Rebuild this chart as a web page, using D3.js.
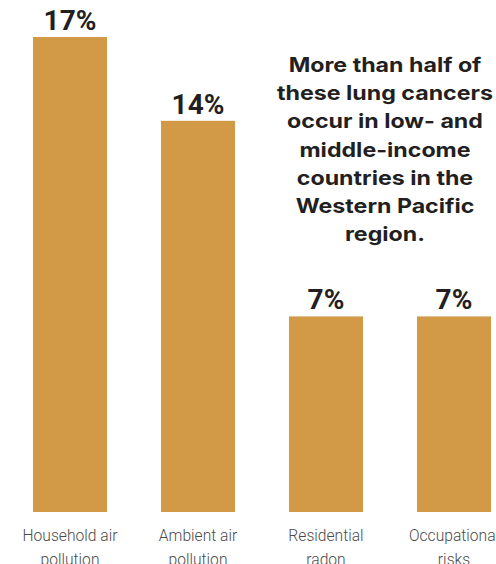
<!DOCTYPE html>
<html>
<head>
<meta charset="utf-8">
<script src="https://cdn.jsdelivr.net/npm/d3@7"></script>
<style>
  html, body { margin: 0; padding: 0; background: #fff; }
  svg { display: block; }
</style>
</head>
<body>
<svg id="chart" width="496" height="564"></svg>
<script>
// Share of lung cancer deaths attributable to each risk factor
const categories = ["Household air pollution", "Ambient air pollution", "Residential radon", "Occupational risks"];
const categoryLines = [["Household air", "pollution"], ["Ambient air", "pollution"], ["Residential", "radon"], ["Occupational", "risks"]];
const values = [17, 14, 7, 7];
const noteLines = ["More than half of", "these lung cancers", "occur in low- and", "middle-income", "countries in the", "Western Pacific", "region."];

const svg = d3.select("#chart");
const barColor = "#D29946";

const x = d3.scaleBand()
  .domain(categories)
  .range([6, 518])
  .paddingInner(54 / 128)
  .paddingOuter(27 / 128);

const y = d3.scaleLinear()
  .domain([0, 17])
  .range([512, 37]);

// bars
svg.selectAll("rect.bar")
  .data(categories)
  .join("rect")
  .attr("class", "bar")
  .attr("x", d => x(d))
  .attr("width", x.bandwidth())
  .attr("y", (d, i) => y(values[i]))
  .attr("height", (d, i) => y(0) - y(values[i]))
  .attr("fill", barColor);

// value labels above bars
svg.selectAll("text.val")
  .data(categories)
  .join("text")
  .attr("class", "val")
  .attr("x", d => x(d) + x.bandwidth() / 2)
  .attr("y", (d, i) => y(values[i]) - 7)
  .attr("text-anchor", "middle")
  .attr("font-family", "Roboto, 'Liberation Sans', sans-serif")
  .attr("font-weight", 700)
  .attr("font-size", 28)
  .attr("fill", "#231f20")
  .text((d, i) => values[i] + "%");

// category labels under the baseline (narrowed to a condensed look)
const cat = svg.selectAll("g.cat")
  .data(categories)
  .join("g")
  .attr("class", "cat")
  .attr("transform", d => `translate(${x(d) + x.bandwidth() / 2},0)`);

cat.each(function (d, i) {
  const g = d3.select(this);
  categoryLines[i].forEach((line, j) => {
    g.append("g")
      .attr("transform", `translate(0,${540.5 + j * 24.5}) scale(0.92,1)`)
      .append("text")
      .attr("text-anchor", "middle")
      .attr("font-family", "Roboto, 'Liberation Sans', sans-serif")
      .attr("font-weight", 300)
      .attr("font-size", 17)
      .attr("fill", "#4a4a4a")
      .text(line);
  });
});

// annotation, widened to a geometric look
const note = svg.append("g")
  .attr("transform", "translate(385,0) scale(1.16,1)");

note.append("text")
  .attr("text-anchor", "middle")
  .attr("font-family", "Inter, 'Noto Sans', sans-serif")
  .attr("font-weight", 700)
  .attr("font-size", 20)
  .attr("fill", "#231f20")
  .selectAll("tspan")
  .data(noteLines)
  .join("tspan")
  .attr("x", 0)
  .attr("y", (d, i) => 72.3 + i * 28.1)
  .text(d => d);
</script>
</body>
</html>
